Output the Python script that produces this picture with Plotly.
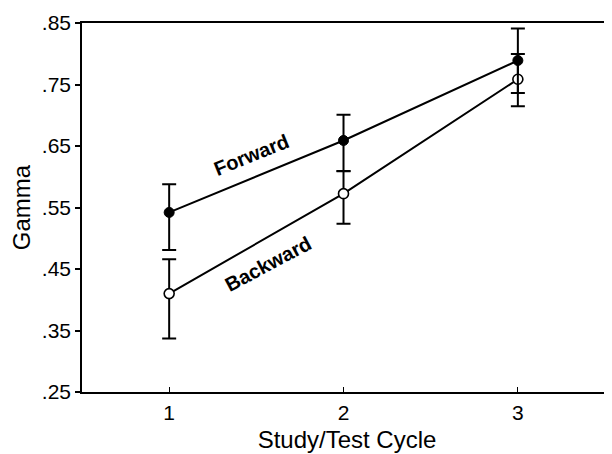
import plotly.graph_objects as go

cycles = [1, 2, 3]
forward = [0.542, 0.659, 0.789]
forward_plus = [0.046, 0.042, 0.052]
forward_minus = [0.061, 0.050, 0.053]
backward = [0.410, 0.5725, 0.7585]
backward_plus = [0.056, 0.037, 0.041]
backward_minus = [0.073, 0.049, 0.044]
y_ticks = [0.25, 0.35, 0.45, 0.55, 0.65, 0.75, 0.85]
y_tick_labels = [".25", ".35", ".45", ".55", ".65", ".75", ".85"]

FONT = "Liberation Sans, Arial, Helvetica, sans-serif"

fig = go.Figure()
fig.add_trace(go.Scatter(
    x=cycles, y=backward, mode="lines+markers",
    line=dict(color="black", width=2),
    marker=dict(symbol="circle", size=10, color="white", line=dict(color="black", width=1.6)),
    error_y=dict(type="data", symmetric=False, array=backward_plus, arrayminus=backward_minus,
                 color="black", thickness=2, width=7),
    showlegend=False,
))
fig.add_trace(go.Scatter(
    x=cycles, y=forward, mode="lines+markers",
    line=dict(color="black", width=2),
    marker=dict(symbol="circle", size=10, color="black", line=dict(color="black", width=1)),
    error_y=dict(type="data", symmetric=False, array=forward_plus, arrayminus=forward_minus,
                 color="black", thickness=2, width=7),
    showlegend=False,
))

fig.add_annotation(x=1.47, y=0.635, text="<b>Forward</b>", showarrow=False, textangle=-22,
                   font=dict(family=FONT, size=20, color="black"))
fig.add_annotation(x=1.567, y=0.4576, text="<b>Backward</b>", showarrow=False, textangle=-28,
                   font=dict(family=FONT, size=20, color="black"))

# page body has an 8px margin; figure sized/placed so the plot area lands where the reference has it
fig.update_layout(
    width=604, height=446,
    margin=dict(l=74, r=0, t=15, b=62, autoexpand=False),
    paper_bgcolor="white", plot_bgcolor="white",
    font=dict(family=FONT, size=21, color="black"),
    xaxis=dict(
        range=[0.5, 3.54], tickvals=cycles, ticktext=[str(c) for c in cycles],
        showline=True, linecolor="black", linewidth=1.5, mirror=True,
        ticks="inside", ticklen=5, tickwidth=1, tickcolor="black",
        showgrid=False, zeroline=False, ticklabelstandoff=1, automargin=False,
        title=dict(text="Study/Test Cycle", font=dict(size=24), standoff=8),
    ),
    yaxis=dict(
        range=[0.25, 0.85], tickvals=y_ticks, ticktext=y_tick_labels,
        showline=True, linecolor="black", linewidth=1.5,
        ticks="outside", ticklen=5, tickwidth=1.5, tickcolor="black",
        showgrid=False, zeroline=False, automargin=False,
        title=dict(text="Gamma", font=dict(size=24), standoff=5),
    ),
)

fig.write_html("out.html")
